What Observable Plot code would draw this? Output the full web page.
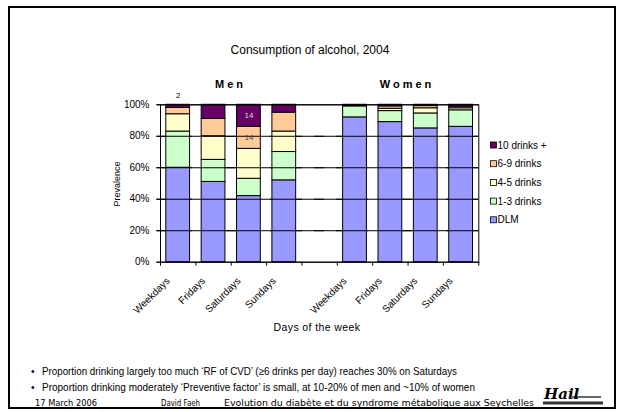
<!DOCTYPE html>
<html><head><meta charset="utf-8">
<script src="https://cdn.jsdelivr.net/npm/d3@7"></script>
<script src="https://cdn.jsdelivr.net/npm/@observablehq/plot@0.6"></script>
<style>
html,body{margin:0;padding:0;background:#fff;}
#wrap{position:relative;width:619px;height:412px;overflow:hidden;font-family:"Liberation Sans",Arial,sans-serif;}
#chart{position:absolute;left:0;top:0;}
#over{position:absolute;left:0;top:0;}
</style></head><body>
<div id="wrap"><div id="chart"></div><svg id="over" width="619" height="412"></svg></div>
<script>
// ---- data ----
const groups = ["Men", "Women"];
const days = ["Weekdays", "Fridays", "Saturdays", "Sundays"];
const seriesNames = ["DLM", "1-3 drinks", "4-5 drinks", "6-9 drinks", "10 drinks +"];
const seriesColors = ["#9999FF", "#CCFFCC", "#FFFFCC", "#FFCC99", "#660066"];

const menDLM = [60, 51, 42, 52];
const men1to3 = [23, 14, 11, 18];
const men4to5 = [11, 15, 19, 13];
const men6to9 = [4, 11, 14, 12];
const men10plus = [2, 9, 14, 5];

const womenDLM = [92, 89, 85, 86];
const women1to3 = [7, 7, 9.5, 10.5];
const women4to5 = [0.2, 1.5, 3.3, 1.3];
const women6to9 = [0.2, 1.5, 1.4, 1];
const women10plus = [0.6, 1, 0.8, 1.2];

const yTicks = [0, 20, 40, 60, 80, 100];
const gridTicks = [20, 40, 60, 80];

const barLabels = [
  {group: "Men", day: "Weekdays", series: "10 drinks +", outside: true},
  {group: "Men", day: "Saturdays", series: "10 drinks +", outside: false},
  {group: "Men", day: "Saturdays", series: "6-9 drinks", outside: false}
];

const title = "Consumption of alcohol, 2004";
const yTitle = "Prevalence";
const xTitle = "Days of the week";
const bullets = [
  "Proportion drinking largely too much \u2018RF of CVD\u2019  (\u22656 drinks per day) reaches 30% on Saturdays",
  "Proportion drinking moderately \u2018Preventive factor\u2019 is small, at 10-20% of men and ~10% of women"
];
const footer = ["17 March 2006", "David Faeh", "Evolution du diab\u00e8te et du syndrome m\u00e9tabolique aux Seychelles"];

// ---- build table ----
const seriesData = {
  Men: [menDLM, men1to3, men4to5, men6to9, men10plus],
  Women: [womenDLM, women1to3, women4to5, women6to9, women10plus]
};
const rows = [];
groups.forEach((g, gi) => days.forEach((d, di) => {
  let cum = 0;
  seriesNames.forEach((s, si) => {
    const v = seriesData[g][si][di];
    rows.push({group: g, day: d, series: s, slot: di + gi * 5, value: v, y1: cum, y2: cum + v});
    cum += v;
  });
}));
const slotLabels = [];
groups.forEach((g, gi) => days.forEach((d, di) => slotLabels.push({day: d, slot: di + gi * 5})));
const labelRows = barLabels.map(l => {
  const r = rows.find(r => r.group === l.group && r.day === l.day && r.series === l.series);
  return {...r, outside: l.outside, text: String(Math.round(r.value))};
});

const font = "'Liberation Sans', Arial, sans-serif";
const chart = Plot.plot({
  width: 619, height: 412,
  marginLeft: 160, marginRight: 140.7, marginTop: 104.3, marginBottom: 150.3,
  x: {domain: [0, 9], axis: null},
  y: {domain: [0, 100], axis: null},
  color: {domain: seriesNames, range: seriesColors},
  style: {fontFamily: font, fontSize: "10px", background: "transparent", overflow: "visible"},
  marks: [
    Plot.ruleY(gridTicks, {stroke: "black", strokeWidth: 1, strokeDasharray: "10,12"}),
    Plot.rect(rows, {x1: d => d.slot, x2: d => d.slot + 1, y1: "y1", y2: "y2", fill: "series",
      stroke: "black", strokeWidth: 1, insetLeft: 5.8, insetRight: 5.8}),
    Plot.frame({stroke: "black", strokeWidth: 1}),
    Plot.axisY({ticks: yTicks, tickFormat: d => d + "%", tickSize: 4, tickPadding: 7, stroke: "black", fill: "black", label: null, fontSize: 10}),
    Plot.tickY(yTicks, {y: d => d, x1: 0, x2: 0, stroke: "black", insetLeft: -3}),
    Plot.axisX({ticks: d3.range(10), tickFormat: () => "", tickSize: 4, stroke: "black", label: null}),
    Plot.text(slotLabels, {x: d => d.slot + 0.5, y: 0, text: "day", rotate: -45, textAnchor: "end",
      dx: -10, dy: 17, fontSize: 10, fill: "black"}),
    Plot.text(labelRows.filter(d => d.outside), {x: d => d.slot + 0.5, y: d => d.y2, text: "text", dy: -9, fontSize: 8, fill: "black"}),
    Plot.text(labelRows.filter(d => !d.outside), {x: d => d.slot + 0.5, y: d => (d.y1 + d.y2) / 2, text: "text",
      fontSize: 8, fill: d => d.series === "10 drinks +" ? "#dddddd" : "#444444"})
  ]
});
document.getElementById("chart").appendChild(chart);

// ---- overlay texts ----
const svg = d3.select("#over");
svg.append("rect").attr("x", 9).attr("y", 7).attr("width", 606).attr("height", 401)
  .attr("fill", "none").attr("stroke", "black").attr("stroke-width", 2);
svg.append("text").attr("x", 310).attr("y", 54).attr("text-anchor", "middle")
  .style("font", `12px ${font}`).text(title);
const groupCenters = [230.5, 407];
groups.forEach((g, i) => svg.append("text").attr("x", groupCenters[i]).attr("y", 88).attr("text-anchor", "middle")
  .style("font", `bold 11px ${font}`).style("letter-spacing", "3px").text(g));
svg.append("text").attr("transform", "translate(120,184) rotate(-90)").attr("text-anchor", "middle")
  .style("font", `9px ${font}`).text(yTitle);
svg.append("text").attr("x", 317).attr("y", 331).attr("text-anchor", "middle")
  .style("font", `10.5px ${font}`).style("letter-spacing", "0.4px").text(xTitle);

// legend
const legendOrder = seriesNames.slice().reverse();
const legendColors = seriesColors.slice().reverse();
legendOrder.forEach((s, i) => {
  const y = 145 + i * 18.7;
  svg.append("rect").attr("x", 490.5).attr("y", y - 3).attr("width", 6).attr("height", 6)
    .attr("fill", legendColors[i]).attr("stroke", "black").attr("stroke-width", 0.8);
  svg.append("text").attr("x", 497.5).attr("y", y + 3.5).style("font", `10px ${font}`).text(s);
});

// bullets
const narrow = "'Liberation Sans Narrow', 'Arial Narrow', 'Liberation Sans', sans-serif";
const bulletY = [375, 391];
const bulletLen = [415, 433];
bullets.forEach((b, i) => {
  svg.append("text").attr("x", 31).attr("y", bulletY[i]).style("font", `10px ${narrow}`).text("\u2022");
  svg.append("text").attr("x", 42).attr("y", bulletY[i]).style("font", `11px ${narrow}`)
    .attr("textLength", bulletLen[i]).attr("lengthAdjust", "spacingAndGlyphs").text(b);
});
// footer
const footX = [35, 161, 224];
const footLen = [62, 39, 310];
footer.forEach((f, i) => svg.append("text").attr("x", footX[i]).attr("y", 406)
  .style("font", `9.5px 'DejaVu Sans', sans-serif`).attr("textLength", footLen[i]).attr("lengthAdjust", "spacingAndGlyphs").text(f));
// logo
svg.append("text").attr("x", 544).attr("y", 399).style("font", "bold italic 15px 'DejaVu Serif', serif").text("Hail");
svg.append("line").attr("x1", 572).attr("x2", 601).attr("y1", 397).attr("y2", 397).attr("stroke", "black").attr("stroke-width", 1.2);
svg.append("rect").attr("x", 543).attr("y", 401.5).attr("width", 60).attr("height", 3).attr("fill", "#333");
</script>
</body></html>
